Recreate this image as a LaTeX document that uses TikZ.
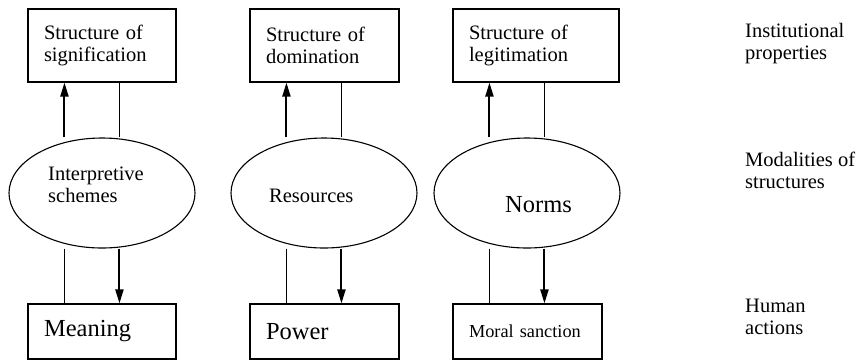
\documentclass[tikz,border=0pt]{standalone}
\usepackage{fontspec}
\setmainfont{Liberation Serif}
\usetikzlibrary{arrows.meta,shapes.geometric}
\begin{document}
\begin{tikzpicture}[x=1pt,y=-1pt,
  box/.style={draw,line width=1.1pt,rectangle,align=left,inner xsep=16pt,inner ysep=0pt,
    font=\fontsize{20.5}{22}\selectfont},
  ell/.style={draw,line width=1.1pt,ellipse,inner sep=0pt,minimum width=186pt,minimum height=110pt},
  lbl/.style={inner sep=0pt,align=left,anchor=base west,font=\fontsize{20.5}{22}\selectfont},
  plain/.style={line width=1.1pt},
  arr/.style={line width=2pt,-{Triangle[length=14pt,width=8pt]}}]
\useasboundingbox (0,0) rectangle (856,360);
% top boxes
\node[box,text width=116pt,minimum height=73pt] (s1) at (102,45.5) {Structure of\\signification};
\node[box,text width=117pt,minimum height=73pt] (s2) at (324.5,45.5) {Structure of\\domination};
\node[box,text width=134pt,minimum height=73pt] (s3) at (536,45.5) {Structure of\\legitimation};
% ellipses
\node[ell] (e1) at (102,193) {};
\node[ell] (e2) at (324,193) {};
\node[ell] (e3) at (527,193) {};
\node[lbl] (t1) at (48,202) {Interpretive\\schemes};
\node[lbl] (t2) at (269,202) {Resources};
\node[lbl,font=\fontsize{24.5}{26}\selectfont] (t3) at (505,212) {Norms};
% bottom boxes
\node[box,text width=116pt,minimum height=55pt,font=\fontsize{24.5}{26}\selectfont] (m1) at (102,331.5) {Meaning};
\node[box,text width=117pt,minimum height=55pt,font=\fontsize{24.5}{26}\selectfont] (m2) at (324.5,331.5) {Power};
\node[box,text width=117pt,minimum height=55pt,font=\fontsize{18.3}{20}\selectfont] (m3) at (527.5,331.5) {Moral sanction};
% right labels
\node[lbl] (r1) at (745,59) {Institutional\\properties};
\node[lbl] (r2) at (745,188) {Modalities of\\structures};
\node[lbl] (r3) at (745,334) {Human\\actions};
% connector coordinates
\foreach \i in {1,2,3}{
  \coordinate (ua\i) at ([xshift=37pt]s\i.south west);
  \coordinate (ub\i) at ([xshift=92pt]s\i.south west);
  \coordinate (da\i) at ([xshift=37pt]m\i.north west);
  \coordinate (db\i) at ([xshift=92pt]m\i.north west);
  \draw[arr] (ua\i |- e\i.north) -- (ua\i);
  \draw[plain] (ub\i |- e\i.north) -- (ub\i);
  \draw[plain] (da\i |- e\i.south) -- (da\i);
  \draw[arr] (db\i |- e\i.south) -- (db\i);
}
\end{tikzpicture}
\end{document}
